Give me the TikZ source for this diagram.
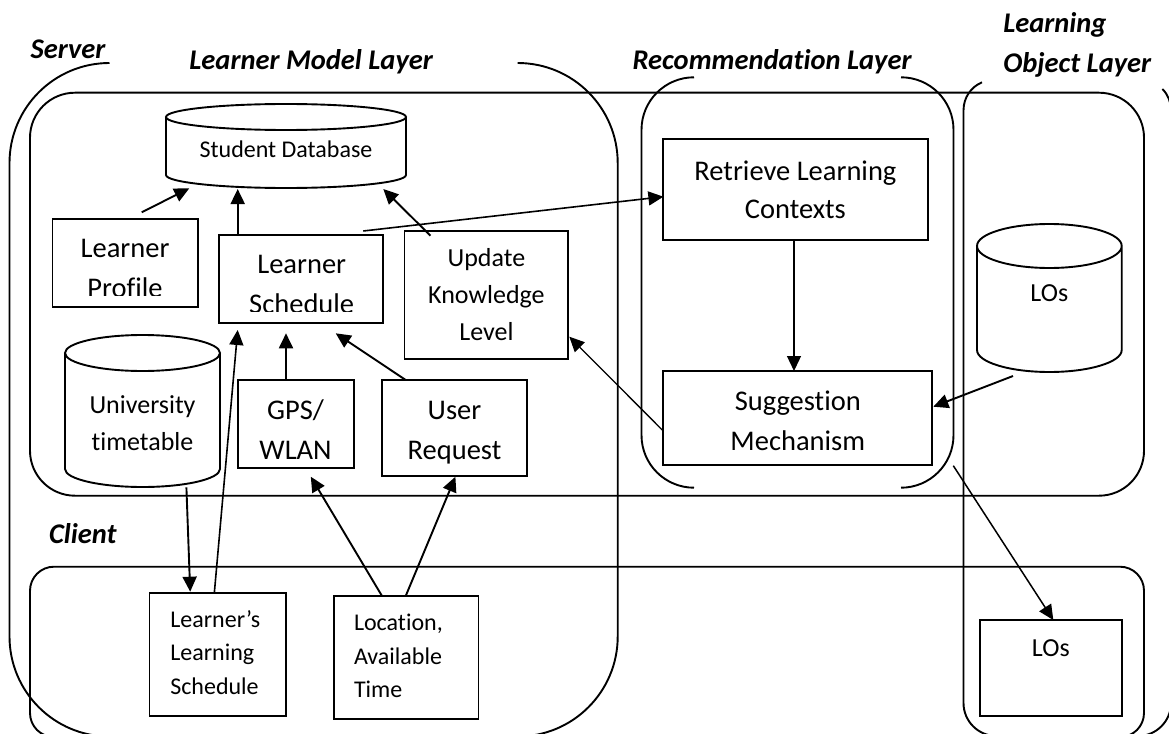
\documentclass[tikz,border=0pt]{standalone}
\usepackage{fontspec}
\setmainfont{Carlito}[Ligatures=NoCommon]
\usetikzlibrary{arrows.meta,calc}

% multi-line text whose baseline is the baseline of its first line
\newcommand\stacklines[2]{\begin{tabular}[t]{@{}#1@{}}#2\end{tabular}}

% cylinder outline drawn inside the frame of node #1; #2 = half width, #3 = half height of the end ellipses
\newcommand\drawcyl[3]{%
  \draw[outline] ($(#1.north)+(0,-#3)$) ellipse[x radius=#2, y radius=#3]
    ($(#1.north west)+(0,-#3)$) -- ($(#1.south west)+(0,#3)$)
    arc[start angle=180, end angle=360, x radius=#2, y radius=#3]
    -- ($(#1.north east)+(0,-#3)$);}

\tikzset{
  outline/.style={line width=1.9pt},
  box/.style={draw, line width=1.8pt, anchor=north west, inner sep=0pt, outer sep=0pt},
  cylframe/.style={anchor=north west, inner sep=0pt, outer sep=0pt},
  conn/.style={line width=1.9pt, -{Triangle[length=15pt,width=14pt]}},
  fineconn/.style={line width=1.3pt, -{Triangle[length=15pt,width=14pt]}},
  txt/.style={inner sep=0pt, outer sep=0pt, anchor=base},
  ltxt/.style={inner sep=0pt, outer sep=0pt, anchor=base west},
  layerlabel/.style={ltxt, font=\fontsize{28.5}{40}\selectfont\bfseries\itshape},
  bigtext/.style={font=\fontsize{28.5}{40}\selectfont},
  bigtight/.style={font=\fontsize{28.5}{38.5}\selectfont},
  midtext/.style={font=\fontsize{26}{37}\selectfont},
  smalltext/.style={font=\fontsize{24}{33.5}\selectfont},
}

\begin{document}
\begin{tikzpicture}[x=1pt,y=1pt]
\useasboundingbox (0,0) rectangle (1169,-733);
\fill[white] (0,0) rectangle (1169,-733);
\clip (0,0) rectangle (1169,-733);

% ---- layer columns (open brackets) ----
\draw[outline, rounded corners=100pt] (109.5,-63) -- (9.5,-63) -- (9.5,-736.5) -- (109.5,-736.5);
\draw[outline, rounded corners=100pt] (517.7,-63) -- (617.7,-63) -- (617.7,-736.5) -- (517.7,-736.5);
\draw[outline, rounded corners=52.5pt] (694,-77.3) -- (641.5,-77.3) -- (641.5,-487.7) -- (694,-487.7);
\draw[outline, rounded corners=52.5pt] (901,-77.3) -- (953.5,-77.3) -- (953.5,-487.7) -- (901,-487.7);
\draw[outline] (982,-82.3) arc[start angle=112.6, end angle=180, radius=30]
  -- (963.5,-703) arc[start angle=180, end angle=270, radius=33];
\draw[outline] (1162.4,-89) arc[start angle=44.5, end angle=0, radius=30]
  -- (1171,-703) arc[start angle=0, end angle=-90, radius=33];

% ---- server and client tiers ----
\draw[outline, rounded corners=45pt] (30,-92.7) rectangle (1144,-495.7);
\draw[outline, rounded corners=24pt] (30,-566.7) rectangle (1144,-737);

% ---- labels ----
\node[layerlabel] (server-label) at (30.6,-58.3) {Server};
\node[layerlabel] (lml-label) at (189.4,-70) {Learner Model Layer};
\node[layerlabel] (rec-label) at (632.6,-70) {Recommendation Layer};
\node[layerlabel] (lo-label) at (1003.3,-32.3) {\stacklines{l}{Learning\\Object Layer}};
\node[layerlabel] (client-label) at (49,-543.3) {Client};

% ---- databases ----
\node[cylframe, minimum width=240pt, minimum height=84pt] (db) at (166,-104) {};
\drawcyl{db}{120}{13}
\node[txt, smalltext] (db-text) at (286,-157.3) {Student Database};

\node[cylframe, minimum width=155pt, minimum height=152pt] (ut) at (65,-335) {};
\drawcyl{ut}{77.5}{18}
\node[txt, midtext] (ut-text) at (142.5,-413.4) {\stacklines{c}{University\\timetable}};

\node[cylframe, minimum width=144.7pt, minimum height=148pt] (lcyl) at (977,-224) {};
\drawcyl{lcyl}{72.35}{22}
\node[txt, midtext] (lcyl-text) at (1049.35,-301.7) {LOs};

% ---- boxes ----
\node[box, minimum width=145.3pt, minimum height=87.4pt] (lp) at (52.4,-219.3) {};
\begin{scope}
  \clip (lp.north west) rectangle ($(lp.south east)+(0,11.5)$);
  \node[txt, bigtext] (lp-text) at (125.05,-257.3) {\stacklines{c}{Learner\\Profile}};
\end{scope}

\node[box, minimum width=164.3pt, minimum height=88pt] (ls) at (219,-235.3) {};
\begin{scope}
  \clip (ls.north west) rectangle ($(ls.south east)+(0,11.8)$);
  \node[txt, bigtext] (ls-text) at (301.7,-273.3) {\stacklines{c}{Learner\\Schedule}};
\end{scope}

\node[box, minimum width=163.8pt, minimum height=128.3pt] (ukl) at (404.5,-231) {};
\node[txt, midtext] (ukl-text) at (486.4,-266.7) {\stacklines{c}{Update\\Knowledge\\Level}};

\node[box, minimum width=116pt, minimum height=88pt] (gps) at (238,-380) {};
\node[txt, bigtext] (gps-text) at (295.5,-419) {\stacklines{c}{GPS/\\WLAN}};

\node[box, minimum width=145pt, minimum height=96pt] (ur) at (382,-380) {};
\node[txt, bigtext] (ur-text) at (454.5,-419) {\stacklines{c}{User\\Request}};

\node[box, minimum width=265.6pt, minimum height=101pt] (rlc) at (662.6,-139) {};
\node[txt, bigtight] (rlc-text) at (795.4,-180.4) {\stacklines{c}{Retrieve Learning\\Contexts}};

\node[box, minimum width=269pt, minimum height=94.3pt] (sm) at (663.3,-371) {};
\node[txt, bigtext] (sm-text) at (797.8,-410.4) {\stacklines{c}{Suggestion\\Mechanism}};

\node[box, minimum width=136.5pt, minimum height=123pt] (lls) at (149.5,-593.3) {};
\node[ltxt, smalltext] (lls-text) at (170.3,-627) {\stacklines{l}{Learner’s\\Learning\\Schedule}};

\node[box, minimum width=144.7pt, minimum height=123pt] (loc) at (333.7,-596) {};
\node[ltxt, smalltext] (loc-text) at (354,-630.5) {\stacklines{l}{Location,\\Available\\Time}};

\node[box, minimum width=141.7pt, minimum height=96pt] (lob) at (980,-620) {};
\node[txt, midtext] (lob-text) at (1050.85,-656.7) {LOs};

% ---- connectors ----
\draw[conn] ($(lp.north west)+(89.3,7)$) -- ($(db.south west)+(23.3,-0.3)$);
\draw[conn] ($(ls.north west)+(18.7,0)$) -- ($(db.south west)+(71.7,-1)$);
\draw[conn] ($(ukl.north west)+(26,-4.7)$) -- ($(db.south west)+(217.3,-1)$);
\draw[conn, line width=1.6pt] ($(ls.north west)+(144.3,4.3)$) -- ($(rlc.west)+(0.8,-7.2)$);
\draw[fineconn] ($(rlc.south)+(-1.4,0)$) -- ($(rlc.south |- sm.north)+(-1.4,0)$);
\draw[conn] ($(lcyl.south)+(-36.35,-4)$) -- ($(sm.east)+(1,11.45)$);
\draw[fineconn] ($(sm.west)+(0,-12.85)$) -- ($(ukl.south east)+(1,22.6)$);
\draw[conn] ($(gps.north west)+(48,0)$) -- ($(ls.south west)+(67,-10)$);
\draw[conn] ($(ur.north west)+(23.7,0)$) -- ($(ls.south west)+(116.7,-10)$);
\draw[conn, line width=1.6pt] ($(lls.north west)+(64.8,0)$) -- ($(ls.south west)+(18.7,-6.7)$);
\draw[conn] ($(ut.south)+(43.9,-0.3)$) -- ($(lls.north west)+(40.7,1.6)$);
\draw[conn] ($(loc.north west)+(48.3,0)$) -- ($(gps.south west)+(72.8,-8.7)$);
\draw[conn] ($(loc.north west)+(72,0)$) -- ($(ur.south)+(0.9,-0.7)$);
\draw[conn, line width=1.5pt] ($(sm.south east)+(21,-0.4)$) -- ($(lob.north)+(2.45,0)$);
\end{tikzpicture}
\end{document}
